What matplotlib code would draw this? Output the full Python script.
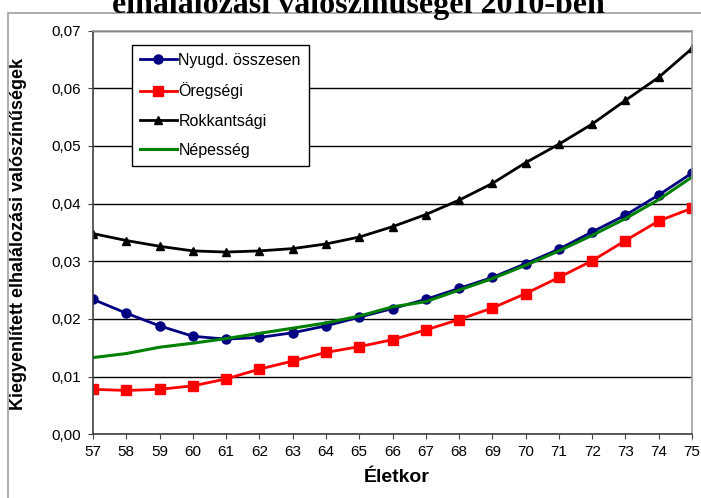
import matplotlib.pyplot as plt
from matplotlib.patches import Rectangle
from matplotlib.ticker import FuncFormatter, MultipleLocator

plt.rcParams['font.family'] = ['Liberation Sans', 'DejaVu Sans']

# Ages
eletkor = list(range(57, 76))

# Values
nyugd = [0.0234, 0.0210, 0.0188, 0.0170, 0.0165, 0.0168, 0.0176, 0.0188, 0.0203, 0.0218,
         0.0234, 0.0253, 0.0272, 0.0296, 0.0321, 0.0351, 0.0380, 0.0415, 0.0453]
oregsegi = [0.0078, 0.0076, 0.0078, 0.0084, 0.0096, 0.0113, 0.0127, 0.0142, 0.0152, 0.0164,
            0.0181, 0.0199, 0.0219, 0.0244, 0.0272, 0.0301, 0.0336, 0.0370, 0.0392]
rokkant = [0.0348, 0.0336, 0.0326, 0.0318, 0.0316, 0.0318, 0.0322, 0.0330, 0.0342, 0.0360,
           0.0381, 0.0406, 0.0435, 0.0471, 0.0503, 0.0538, 0.0579, 0.0619, 0.0669]
nepesseg = [0.0133, 0.0140, 0.0151, 0.0158, 0.0166, 0.0175, 0.0184, 0.0193, 0.0205, 0.0221,
            0.0230, 0.0250, 0.0270, 0.0293, 0.0318, 0.0345, 0.0374, 0.0407, 0.0446]

fig = plt.figure(figsize=(7.01, 4.98), dpi=100)
ax = fig.add_axes([0.1327, 0.1279, 0.8545, 0.8107])

# chart area border (partly cut off)
fig.patches.append(Rectangle((8 / 701, -0.1), 2, 1.1 - 13 / 498, transform=fig.transFigure,
                             fill=False, edgecolor='#a0a0a0', linewidth=1.2))

# cut-off title
fig.text(0.511, 1 - 12.5 / 498, 'elhalálozási valószínűségei 2010-ben', ha='center', va='baseline',
         fontsize=23, fontweight='bold', family='Liberation Serif')

ax.plot(eletkor, nyugd, color='#000080', marker='o', markersize=6.5, linewidth=2,
        label='Nyugd. összesen')
ax.plot(eletkor, oregsegi, color='#ff0000', marker='s', markersize=6.5, linewidth=2,
        label='Öregségi')
ax.plot(eletkor, rokkant, color='black', marker='^', markersize=6, linewidth=2,
        label='Rokkantsági')
ax.plot(eletkor, nepesseg, color='#008000', linewidth=2.2, label='Népesség')

ax.set_xlim(57, 75)
ax.set_ylim(0, 0.07)
ax.set_xticks(eletkor)
ax.yaxis.set_major_locator(MultipleLocator(0.01))
ax.yaxis.set_major_formatter(FuncFormatter(lambda v, p: f'{v:.2f}'.replace('.', ',')))
ax.grid(axis='y', color='black', linewidth=1)
ax.set_axisbelow(True)
ax.tick_params(labelsize=11, length=3.6, color='#404040')
ax.tick_params(axis='x', pad=4)
ax.tick_params(axis='y', pad=5)

for s in ['left', 'bottom']:
    ax.spines[s].set_color('#404040')
    ax.spines[s].set_linewidth(1.2)
for s in ['top', 'right']:
    ax.spines[s].set_color('#a0a0a0')
    ax.spines[s].set_linewidth(1.2)

ax.set_xlabel('Életkor', fontsize=14, fontweight='bold')
ax.xaxis.set_label_coords((397 - 93) / 599, -(469 - 434.3) / 403.7)
ax.set_ylabel('Kiegyenlített elhalálozási valószínűségek', fontsize=13, fontweight='bold')
ax.yaxis.set_label_coords(-(93 - 27) / 599, 0.495)

leg = ax.legend(loc='upper left', bbox_to_anchor=((132 - 93) / 599, (434.3 - 45) / 403.7),
                fontsize=11.5, frameon=True, fancybox=False, edgecolor='black',
                handlelength=2.3, handletextpad=0.1, labelspacing=0.9, borderpad=0.5,
                borderaxespad=0)
leg.get_frame().set_linewidth(1)
leg.get_frame().set_alpha(1)

fig.savefig('out.png', dpi=100)
